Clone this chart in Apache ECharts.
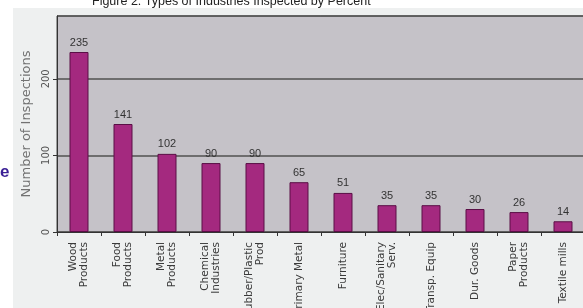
<!DOCTYPE html>
<html>
<head>
<meta charset="utf-8">
<script src="https://cdn.jsdelivr.net/npm/echarts@6/dist/echarts.min.js"></script>
<style>
  html, body { margin: 0; padding: 0; background: #fff; }
  #wrap { position: relative; width: 583px; height: 308px; overflow: hidden; }
  #paper { position: absolute; left: 13px; top: 8px; right: 0; bottom: 0; background: #eef0f0; }
  #chart { position: absolute; left: 0; top: 0; width: 583px; height: 308px; }
</style>
</head>
<body>
<div id="wrap">
  <div id="paper"></div>
  <div id="chart"></div>
</div>
<script>
// 行业类别
var industries = [
  'Wood\nProducts', 'Food\nProducts', 'Metal\nProducts', 'Chemical\nIndustries',
  'Rubber/Plastic\nProd', 'Primary Metal', 'Furniture', 'Elec/Sanitary\nServ.',
  'Transp. Equip', 'Dur. Goods', 'Paper\nProducts', 'Textile mills'
];
// 检查次数
var inspections = [235, 141, 102, 90, 90, 65, 51, 35, 35, 30, 26, 14];
var yTicks = [0, 100, 200];

var chart = echarts.init(document.getElementById('chart'));

var option = {
  animation: false,
  title: {
    text: 'Figure 2. Types of Industries Inspected by Percent',
    left: 87,
    top: -10,
    textStyle: {
      fontFamily: 'Liberation Sans',
      fontSize: 12.5,
      fontWeight: 'normal',
      color: '#222'
    }
  },
  graphic: [{
    type: 'text',
    left: 0,
    top: 164,
    style: {
      text: 'e',
      fontSize: 17,
      fontWeight: 'bold',
      fontFamily: 'Liberation Sans',
      fill: '#3a1f95'
    }
  }],
  grid: {
    left: 57,
    top: 16,
    right: -2,
    bottom: 76,
    containLabel: false,
    outerBoundsMode: 'none',
    show: true,
    backgroundColor: '#c5c2c8',
    borderColor: '#4a4a4a',
    borderWidth: 1
  },
  xAxis: {
    type: 'category',
    data: industries,
    axisLine: { lineStyle: { color: '#333', width: 1 } },
    axisTick: { show: true, length: 4, lineStyle: { color: '#333' } },
    axisLabel: {
      rotate: 90,
      margin: 10,
      interval: 0,
      fontSize: 10.5,
      lineHeight: 11,
      fontFamily: 'DejaVu Sans',
      color: '#3a3a3a',
      align: 'right'
    }
  },
  yAxis: {
    type: 'value',
    min: 0,
    max: 282,
    interval: 100,
    name: 'Number of Inspections',
    nameLocation: 'middle',
    nameRotate: 90,
    nameGap: 24,
    nameTextStyle: {
      fontSize: 13,
      fontFamily: 'DejaVu Sans',
      color: '#727272'
    },
    axisLine: { show: true, lineStyle: { color: '#333' } },
    axisTick: { show: true, length: 4, lineStyle: { color: '#333' } },
    axisLabel: {
      rotate: 90,
      margin: 6,
      fontSize: 10,
      fontFamily: 'DejaVu Sans',
      color: '#555',
      showMaxLabel: false,
      formatter: function (v) { return yTicks.indexOf(v) >= 0 ? String(v) : ''; }
    },
    splitLine: { show: true, lineStyle: { color: '#505050', width: 1.5 } }
  },
  series: [{
    type: 'bar',
    data: inspections,
    barWidth: 19,
    itemStyle: {
      color: '#a4297f',
      borderColor: '#5a0f46',
      borderWidth: 1
    },
    label: {
      show: true,
      position: 'top',
      distance: 4,
      fontSize: 11,
      fontFamily: 'Liberation Sans Narrow, Liberation Sans',
      color: '#333'
    }
  }]
};

chart.setOption(option);
</script>
</body>
</html>
